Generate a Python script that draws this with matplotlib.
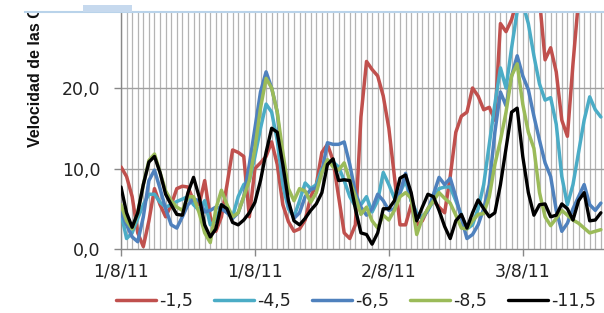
import numpy as np
import matplotlib
matplotlib.use("Agg")
import matplotlib.pyplot as plt
from matplotlib.patches import Rectangle
from matplotlib.lines import Line2D

series_names = ["-1,5", "-4,5", "-6,5", "-8,5", "-11,5"]
series_colors = ["#C0504D", "#4BACC6", "#4F81BD", "#9BBB59", "#000000"]

red = [10.2, 9.0, 6.5, 2.0, 0.3, 3.5, 7.5, 5.5, 4.0, 5.5, 7.5, 7.8, 7.7, 6.0, 5.5, 8.5,
       4.0, 2.2, 4.0, 8.0, 12.3, 12.0, 11.5, 4.0, 10.0, 10.7, 11.5, 13.3, 10.5, 5.5, 3.4, 2.2,
       2.5, 3.6, 6.5, 8.0, 12.0, 13.0, 11.0, 6.5, 2.0, 1.3, 3.0, 16.4, 23.3, 22.3, 21.5, 19.0,
       15.0, 9.0, 3.0, 3.0, 5.5, 3.0, 3.5, 5.0, 6.0, 5.2, 4.5, 9.0, 14.5, 16.5, 17.0, 20.0,
       19.0, 17.3, 17.6, 16.0, 28.0, 27.0, 28.5, 31.0, 32.0, 33.0, 33.0, 31.0, 23.5, 25.0, 22.0, 16.0,
       14.0, 23.0, 31.0, 34.0, 35.0, 35.0, 35.0]

cyan = [4.5, 1.3, 2.0, 3.8, 5.5, 6.8, 6.8, 5.8, 5.2, 5.5, 5.9, 6.2, 6.5, 5.5, 4.8, 6.0,
        3.0, 3.5, 5.5, 5.0, 4.0, 6.5, 8.0, 8.5, 11.5, 15.0, 18.0, 17.0, 13.5, 8.0, 5.0, 4.0,
        6.0, 8.2, 7.5, 8.0, 10.0, 11.0, 10.8, 10.2, 8.5, 6.5, 5.3, 5.5, 6.5, 4.6, 6.0, 9.5,
        8.0, 6.3, 7.0, 8.5, 6.0, 4.5, 4.0, 4.8, 6.0, 7.5, 7.7, 7.7, 6.0, 4.2, 2.5, 3.0,
        5.0, 8.0, 13.0, 18.0, 22.5, 20.0, 25.0, 29.5, 30.5, 28.0, 24.0, 20.5, 18.5, 18.8, 15.5, 9.0,
        5.5, 8.0, 12.0, 16.0, 18.9, 17.3, 16.4]

blue = [4.5, 3.0, 1.5, 0.9, 4.0, 8.5, 9.8, 7.5, 5.0, 3.0, 2.6, 4.0, 5.5, 6.2, 6.0, 4.6,
        4.8, 5.2, 5.0, 4.5, 3.8, 4.5, 6.5, 10.5, 15.0, 19.5, 22.0, 20.0, 17.0, 10.0, 5.5, 3.8,
        4.5, 6.5, 7.4, 7.6, 9.5, 13.2, 13.0, 13.0, 13.3, 10.5, 7.0, 5.2, 4.2, 5.0, 6.8, 6.0,
        4.8, 5.0, 7.0, 9.4, 6.0, 4.2, 3.8, 4.8, 6.8, 8.9, 8.0, 8.8, 6.5, 3.8, 1.3, 1.8,
        3.0, 5.0, 8.0, 14.5, 19.5, 17.8, 21.5, 24.0, 21.5, 19.8, 16.5, 13.5, 10.7, 9.0, 4.8, 2.2,
        3.2, 5.0, 6.5, 8.0, 5.5, 4.8, 5.7]

green = [5.5, 3.5, 2.5, 4.5, 8.0, 11.0, 11.8, 9.5, 7.2, 6.0, 5.2, 4.8, 6.5, 6.5, 4.5, 2.0,
         0.8, 5.0, 7.3, 5.5, 4.0, 4.5, 6.5, 8.5, 12.5, 17.5, 21.2, 20.0, 17.0, 12.0, 7.5, 6.0,
         7.5, 7.2, 5.8, 7.0, 9.5, 11.1, 10.2, 9.8, 10.7, 8.5, 6.5, 4.3, 5.2, 3.5, 2.6, 4.2,
         3.6, 4.8, 6.5, 7.0, 6.3, 1.8, 3.8, 5.0, 6.0, 7.0, 6.3, 5.7, 4.2, 2.6, 2.5, 3.5,
         4.3, 4.4, 6.5, 10.5, 13.5, 17.0, 21.5, 23.0, 18.0, 14.5, 12.5, 7.0, 4.0, 2.9, 3.8, 4.8,
         4.2, 3.6, 3.2, 2.6, 2.0, 2.2, 2.4]

black = [7.7, 4.5, 2.7, 4.5, 8.0, 10.8, 11.5, 9.5, 6.8, 5.5, 4.3, 4.2, 7.0, 8.9, 6.5, 3.0,
         1.5, 2.5, 5.5, 5.0, 3.3, 3.0, 3.6, 4.5, 5.8, 8.5, 12.0, 15.0, 14.5, 10.5, 6.0, 3.5,
         3.0, 3.8, 4.8, 5.6, 7.0, 10.5, 11.2, 8.5, 8.6, 8.5, 5.0, 2.0, 1.8, 0.6, 2.0, 5.0,
         5.0, 6.0, 8.8, 9.2, 7.0, 3.5, 5.2, 6.8, 6.5, 4.8, 2.8, 1.3, 3.5, 4.3, 2.6, 4.5,
         6.1, 5.0, 4.0, 4.5, 8.0, 12.5, 17.0, 17.5, 11.5, 7.0, 4.2, 5.5, 5.6, 4.0, 4.2, 5.6,
         5.0, 3.6, 6.0, 7.0, 3.5, 3.6, 4.5]

tick_labels = ["1/8/11", "1/8/11", "2/8/11", "3/8/11"]
y_tick_values = [0, 10, 20]
y_tick_labels = ["0,0", "10,0", "20,0"]
ylabel_text = "Velocidad de las Corrientes"

all_series = [red, cyan, blue, green, black]

W, H = 604, 313
fig = plt.figure(figsize=(W / 100, H / 100), dpi=100)
ax = fig.add_axes([121 / W, 1 - 249 / H, 1 - 121 / W, (249 - 12) / H])

steps = np.arange(len(black))
major_every = 24

for vals, c, name in zip(all_series, series_colors, series_names):
    lw = 2.5 if c != "#000000" else 2.4
    ax.plot(steps, vals, color=c, lw=lw, label=name, solid_joinstyle="round",
            solid_capstyle="round", zorder=3)

ax.set_xlim(0, (604 - 121) / 5.58)
ax.set_ylim(0, (249 - 12) / 8.05)

# gridlines
for s in steps:
    ax.axvline(s, color="#b4b4b4", lw=0.9, zorder=1)
for yv in y_tick_values[1:]:
    ax.axhline(yv, color="#a0a0a0", lw=1.0, zorder=1)

major_pos = [major_every * k for k in range(len(tick_labels))]
ax.set_xticks(major_pos)
ax.set_xticklabels(tick_labels, fontsize=12.5, color="#222222")
ax.set_yticks(y_tick_values)
ax.set_yticklabels(y_tick_labels, fontsize=12.5, color="#222222")
ax.tick_params(axis="both", direction="out", length=5, width=1, color="#888888")
ax.tick_params(axis="y", pad=10)
ax.tick_params(axis="x", pad=5)

for side in ["top", "right"]:
    ax.spines[side].set_visible(False)
for side in ["left", "bottom"]:
    ax.spines[side].set_color("#888888")
    ax.spines[side].set_linewidth(1.0)

# y label (cut at top like the reference)
fig.text(36 / W, 1 - 147 / H, ylabel_text, rotation=90, ha="center", va="bottom",
         fontsize=11.5, fontweight="bold", family=["Liberation Sans", "DejaVu Sans"],
         color="#111111")

# top cut strip
fig.patches.append(Rectangle((0, 1 - 12 / H), 1, 12 / H, transform=fig.transFigure,
                             facecolor="white", edgecolor="none", zorder=10))
fig.lines.append(Line2D([25 / W, 1], [1 - 12 / H, 1 - 12 / H], transform=fig.transFigure,
                        color="#b9d3ea", lw=1.5, zorder=11))
fig.patches.append(Rectangle((83 / W, 1 - 12 / H), 49 / W, 7 / H, transform=fig.transFigure,
                             facecolor="#c6d9ee", edgecolor="none", zorder=11))

leg = fig.legend(loc="center", bbox_to_anchor=(356 / W, 1 - 301 / H), ncol=5, frameon=False,
                 fontsize=12.5, handlelength=2.3, handletextpad=0.2, columnspacing=1.2)
for t in leg.get_texts():
    t.set_color("#222222")

fig.savefig("out.png", dpi=100)
